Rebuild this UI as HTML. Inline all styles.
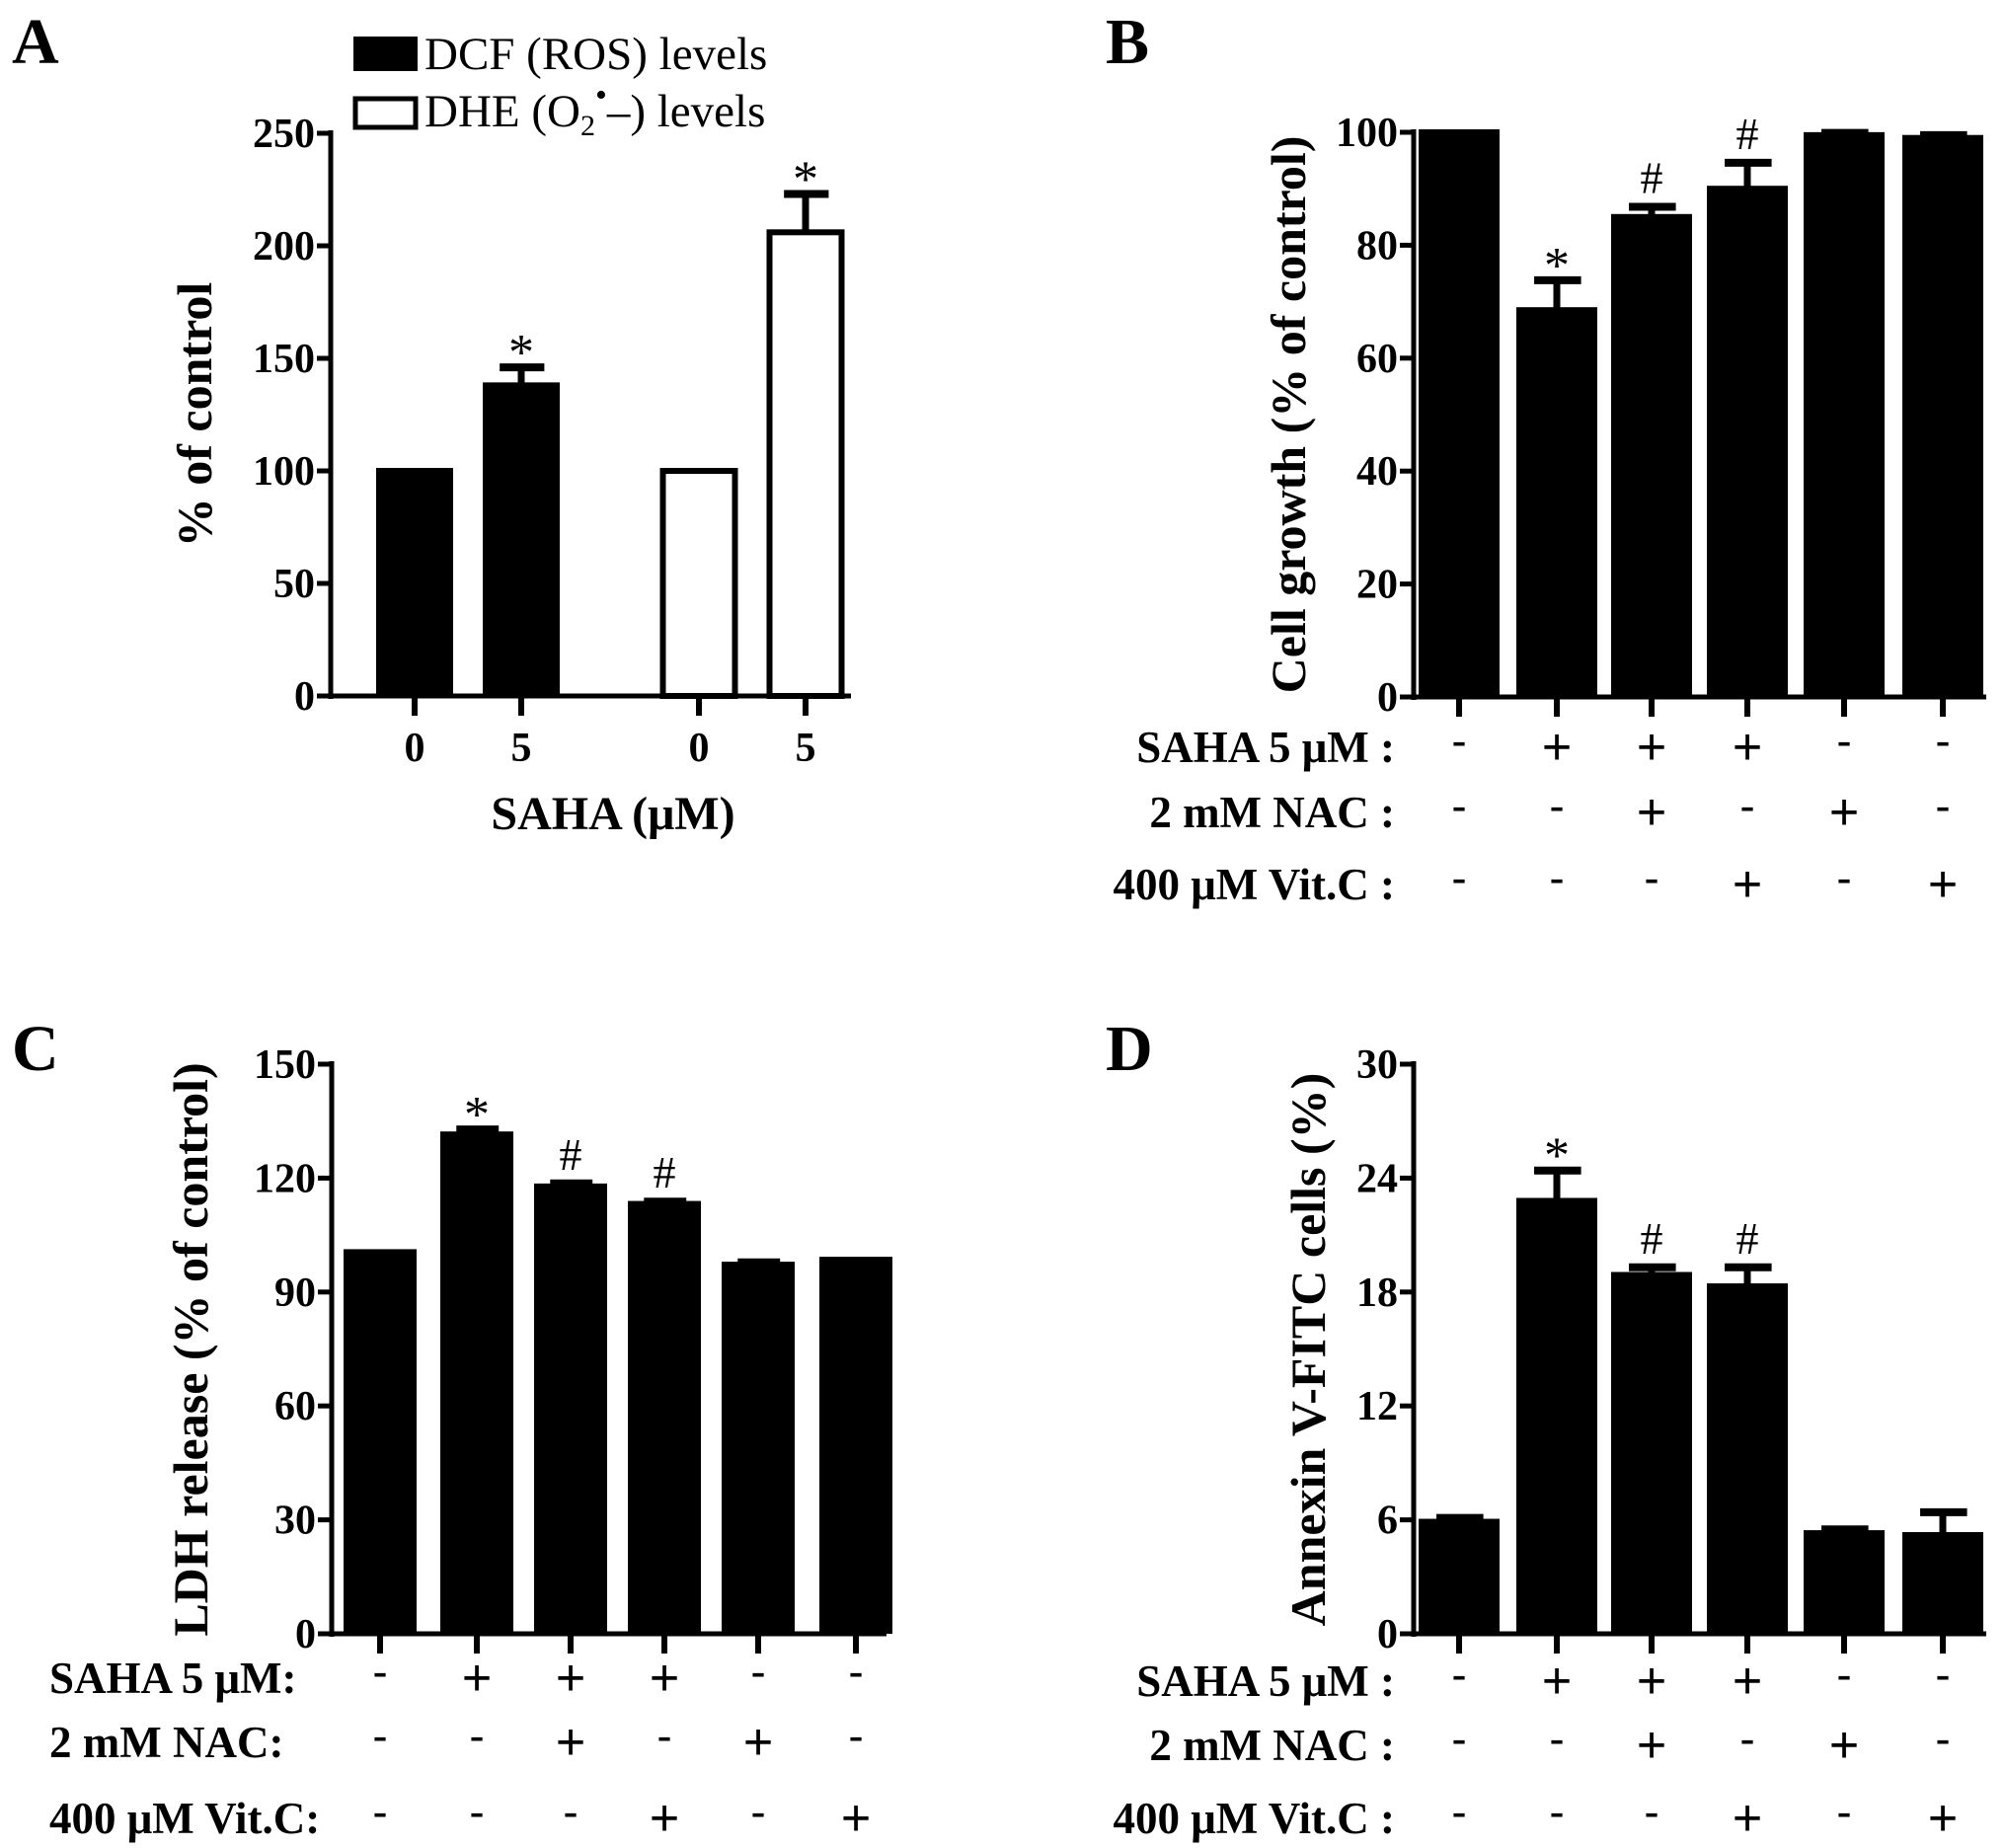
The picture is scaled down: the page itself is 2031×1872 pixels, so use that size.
<!DOCTYPE html>
<html><head><meta charset="utf-8"><style>
body{margin:0;background:#fff}
svg{display:block;font-family:"Liberation Serif",serif}
</style></head><body>
<svg id="fig" width="2031" height="1872" viewBox="0 0 2031 1872">
<text x="12" y="64" font-size="66" font-weight="bold">A</text>
<text x="1120" y="64" font-size="66" font-weight="bold">B</text>
<text x="12" y="1084" font-size="66" font-weight="bold">C</text>
<text x="1120" y="1084" font-size="66" font-weight="bold">D</text>
<g>
<rect x="358" y="37" width="65" height="35" fill="#000"/>
<text x="430" y="70" font-size="47">DCF (ROS) levels</text>
<rect x="360" y="100" width="61" height="29" fill="#fff" stroke="#000" stroke-width="5"/>
<text x="430" y="128" font-size="47">DHE (O<tspan font-size="30" dy="9">2</tspan><tspan font-size="34" dy="-30">•</tspan><tspan dy="21">–) levels</tspan></text>
</g>
<text x="621" y="840" font-size="48" font-weight="bold" text-anchor="middle">SAHA (μM)</text>
</svg>
<script>
// Panel A data
const aCats=['0','5','0','5'];
const aVals=[100,138,100,206];
const aErr=[0,8,0,17];
const aFill=['#000','#000','#fff','#fff'];
const aMarks=['','*','','*'];
const aTicks=[0,50,100,150,200,250];
// Panel B
const bVals=[100,68.5,85,90,99.5,99];
const bErr=[0,5.3,1.8,4.6,0.4,0.5];
const bMarks=['','*','#','#','',''];
const bTicks=[0,20,40,60,80,100];
// Panel C
const cVals=[100.5,131.5,117.8,113.2,97.2,98.5];
const cErr=[0,1.3,0.8,0.6,0.6,0];
const cMarks=['','*','#','#','',''];
const cTicks=[0,30,60,90,120,150];
// Panel D
const dVals=[5.9,22.8,18.9,18.3,5.3,5.2];
const dErr=[0.2,1.6,0.4,1.0,0.2,1.2];
const dMarks=['','*','#','#','',''];
const dTicks=[0,6,12,18,24,30];
// Treatments
const saha=['-','+','+','+','-','-'];
const nac=['-','-','+','-','+','-'];
const vitc=['-','-','-','+','-','+'];

const svg=document.getElementById('fig');
const NS='http://www.w3.org/2000/svg';
function mk(tag,attrs,parent){const e=document.createElementNS(NS,tag);for(const k in attrs)e.setAttribute(k,attrs[k]);(parent||svg).appendChild(e);return e;}

function panel(p){
  const g=mk('g',{});
  
  
  const ymax=p.ticks[p.ticks.length-1];
  const y=v=>p.y0-(v/ymax)*(p.y0-p.ytop);
  p.vals.forEach((v,i)=>{
    const cx=p.xs[i];
    const fill=p.fills?p.fills[i]:'#000';
    const top=y(v);
    if(p.err[i]>0){
      const ey=y(v+p.err[i]);
      const l=mk('line',{x1:cx,x2:cx,y1:top,y2:ey,stroke:'#000','stroke-width':7},g);
      
      
      const c=mk('line',{x1:cx-p.bw*0.28,x2:cx+p.bw*0.3,y1:ey,y2:ey,stroke:'#000','stroke-width':8},g);
      
      
    }
    let r;
    if(fill==='#fff') r=mk('rect',{x:cx-p.bw/2+2.5,y:top,width:p.bw-5,height:p.y0-top,fill:'#fff',stroke:'#000','stroke-width':6},g);
    else r=mk('rect',{x:cx-p.bw/2,y:top-3,width:p.bw,height:p.y0-top+3,fill:'#000'},g);
    
    
    if(p.marks[i]){
      const my=y(v+p.err[i])-14;
      const star=p.marks[i]==='*';
      const t=mk('text',{x:cx,y:star?my+16:my,'font-size':star?52:46,'text-anchor':'middle'},g);
      t.textContent=p.marks[i];
      
      
    }
    const tk=mk('line',{x1:cx,x2:cx,y1:p.y0,y2:p.y0+20,stroke:'#000','stroke-width':6},g);
    
    
    if(p.cats){
      const t=mk('text',{x:cx,y:p.y0+66,'font-size':42,'font-weight':'bold','text-anchor':'middle'},g);
      t.textContent=p.cats[i];
      
      
    }
  });
  const ya=mk('line',{x1:p.x0,x2:p.x0,y1:p.ytop-3,y2:p.y0+3,stroke:'#000','stroke-width':5},g);
  
  
  const xa=mk('line',{x1:p.x0-14,x2:p.xend,y1:p.y0,y2:p.y0,stroke:'#000','stroke-width':5},g);
  
  
  p.ticks.forEach(tv=>{
    const ty=y(tv);
    const l=mk('line',{x1:p.x0-14,x2:p.x0,y1:ty,y2:ty,stroke:'#000','stroke-width':5},g);
    
    
    const t=mk('text',{x:p.x0-16,y:ty+14,'font-size':42,'font-weight':'bold','text-anchor':'end'},g);
    t.textContent=tv;
    
    
  });
  const yt=mk('text',{x:0,y:0,'font-size':p.ytsize||50,'font-weight':'bold','text-anchor':'middle',transform:`translate(${p.ylx},${p.yly}) rotate(-90)`},g);
  yt.textContent=p.ytitle;
  
  
  if(p.rows){
    const labels=p.rowLabels;
    [saha,nac,vitc].forEach((row,ri)=>{
      const ry=p.rows[ri];
      const lt=mk('text',{x:p.rlx,y:ry+15,'font-size':45,'font-weight':'bold','text-anchor':p.ranchor},g);
      lt.textContent=labels[ri];
      
      
      row.forEach((s,i)=>{
        const st=mk('text',{x:p.xs[i],y:ry+(s==='+'?17:9),'font-size':s==='+'?52:46,'text-anchor':'middle','font-family':'"Liberation Sans",sans-serif'},g);
        st.textContent=s;
        
        
      });
    });
  }
}
const xs6=[1478,1577,1673,1770,1868,1968];
const xs6c=[385,483,578,673,768,867];
panel({name:'panel-a',x0:335,y0:705,ytop:135,xend:862,xs:[420,528,708,816],bw:78,vals:aVals,err:aErr,fills:aFill,marks:aMarks,ticks:aTicks,cats:aCats,ytitle:'% of control',ylx:214,yly:420});
panel({name:'panel-b',x0:1432,y0:706,ytop:134,xend:2012,xs:xs6,bw:82,vals:bVals,err:bErr,marks:bMarks,ticks:bTicks,ytitle:'Cell growth (% of control)',ylx:1322,yly:420,rows:[757,823,896],rlx:1413,ranchor:'end',rowLabels:['SAHA 5 μM :','2 mM NAC :','400 μM Vit.C :']});
panel({name:'panel-c',x0:336,y0:1655,ytop:1078,xend:898,xs:xs6c,bw:74,vals:cVals,err:cErr,marks:cMarks,ticks:cTicks,ytitle:'LDH release (% of control)',ylx:210,yly:1367,rows:[1700,1765,1842],rlx:50,ranchor:'start',rowLabels:['SAHA 5 μM:','2 mM NAC:','400 μM Vit.C:']});
panel({name:'panel-d',x0:1432,y0:1655,ytop:1078,xend:2012,xs:xs6,bw:82,vals:dVals,err:dErr,marks:dMarks,ticks:dTicks,ytitle:'Annexin V-FITC cells (%)',ylx:1342,yly:1367,rows:[1703,1768,1842],rlx:1413,ranchor:'end',rowLabels:['SAHA 5 μM :','2 mM NAC :','400 μM Vit.C :']});
</script>
</body></html>
